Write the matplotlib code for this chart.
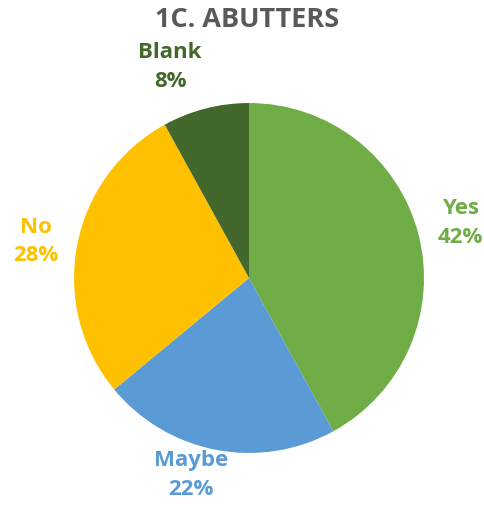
import matplotlib.pyplot as plt

plt.rcParams['font.family'] = ['Open Sans', 'DejaVu Sans']

# Данные
labels = ['Yes', 'Maybe', 'No', 'Blank']
shares = [42, 22, 28, 8]
colors = ['#70AD47', '#5B9BD5', '#FFC000', '#43682B']
# положение подписей (в радиусах круга)
label_pos = [(1.206, 0.314), (-0.331, -1.126), (-1.217, 0.21), (-0.451, 1.206)]

fig = plt.figure(figsize=(4.84, 5.05), dpi=100)
ax = fig.add_axes([0.153, 0.103, 0.723, 0.693])

wedges, _ = ax.pie(shares, colors=colors, startangle=90, counterclock=False,
                   wedgeprops=dict(linewidth=0))
ax.set_aspect('equal')
ax.set_xlim(-1, 1)
ax.set_ylim(-1, 1)

# Подписи снаружи круга
for lab, val, col, (x, y) in zip(labels, shares, colors, label_pos):
    ax.text(x, y, f"{lab}\n{val}%", color=col,
            ha='center', va='center', fontsize=16, fontweight='bold',
            linespacing=1.45, clip_on=False)

fig.text(0.511, 0.96, '1C. ABUTTERS', ha='center', va='center',
         fontsize=19.5, fontweight='bold', color='#595959')

fig.savefig('out.png', dpi=100)
